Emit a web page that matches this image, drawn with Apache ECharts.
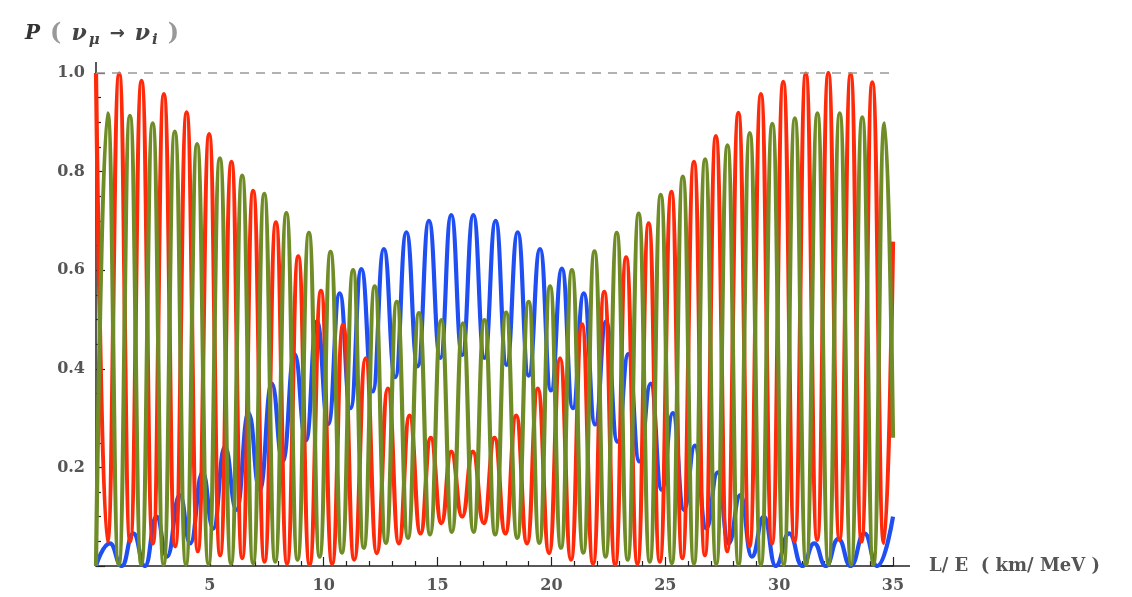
<!DOCTYPE html>
<html><head><meta charset="utf-8">
<script src="https://cdn.jsdelivr.net/npm/echarts@6/dist/echarts.min.js"></script>
<style>html,body{margin:0;padding:0;background:#fff}#c{width:1132px;height:597px}</style>
</head><body><div id="c"></div>
<script>
// P(nu_mu -> nu_mu) : red — extrema
const xMu = [0,0.5,1.02,1.5,2.0,2.5,2.98,3.48,3.98,4.47,4.97,5.45,5.95,6.42,6.9,7.4,7.9,8.39,8.88,9.38,9.88,10.37,10.85,11.34,11.84,12.33,12.82,13.3,13.77,14.25,14.7,15.17,15.6,16.08,16.55,17.03,17.5,17.98,18.45,18.93,19.4,19.9,20.38,20.86,21.34,21.83,22.32,22.8,23.28,23.78,24.27,24.76,25.27,25.75,26.26,26.74,27.22,27.72,28.21,28.7,29.2,29.69,30.18,30.68,31.17,31.67,32.16,32.65,33.14,33.62,34.09,34.6,35];
const pMu = [1.0,0.05,0.999,0.05,0.984,0.046,0.957,0.04,0.92,0.03,0.876,0.022,0.82,0.016,0.761,0.009,0.697,0.005,0.628,0.003,0.558,0.005,0.489,0.013,0.421,0.026,0.36,0.046,0.305,0.066,0.26,0.087,0.232,0.1,0.232,0.087,0.26,0.066,0.305,0.046,0.36,0.026,0.421,0.013,0.49,0.005,0.556,0.003,0.626,0.005,0.695,0.009,0.759,0.016,0.82,0.022,0.872,0.03,0.919,0.04,0.957,0.046,0.982,0.05,0.999,0.053,1.0,0.053,0.998,0.05,0.981,0.047,0.658];
// P(nu_mu -> nu_tau) : olive green
const xTau = [0,0.51,1.0,1.49,1.99,2.49,2.97,3.46,3.95,4.44,4.94,5.44,5.93,6.42,6.9,7.39,7.87,8.36,8.85,9.35,9.82,10.3,10.8,11.29,11.76,12.24,12.73,13.21,13.7,14.18,14.67,15.16,15.63,16.11,16.58,17.06,17.53,18.01,18.5,19.0,19.47,19.94,20.42,20.9,21.4,21.89,22.38,22.87,23.35,23.83,24.32,24.8,25.29,25.77,26.26,26.75,27.24,27.73,28.22,28.71,29.2,29.7,30.2,30.69,31.19,31.68,32.17,32.66,33.16,33.65,34.14,34.63,35];
const pTau = [0,0.918,0.003,0.913,0.003,0.898,0.003,0.881,0.003,0.856,0.004,0.827,0.005,0.792,0.006,0.755,0.009,0.716,0.013,0.676,0.019,0.637,0.027,0.6,0.037,0.567,0.047,0.536,0.057,0.513,0.064,0.499,0.069,0.492,0.069,0.499,0.064,0.514,0.057,0.536,0.047,0.567,0.037,0.6,0.027,0.638,0.019,0.676,0.013,0.715,0.009,0.753,0.006,0.79,0.005,0.825,0.004,0.853,0.003,0.878,0.003,0.897,0.003,0.908,0.003,0.918,0.003,0.918,0.003,0.91,0.003,0.898,0.26];
// P(nu_mu -> nu_e) : blue
const xE = [0,0.61,1.13,1.64,2.15,2.66,3.12,3.68,4.14,4.68,5.15,5.66,6.17,6.7,7.19,7.72,8.2,8.72,9.22,9.7,10.2,10.7,11.18,11.65,12.15,12.64,13.14,13.63,14.13,14.62,15.12,15.6,16.08,16.57,17.06,17.55,18.03,18.52,19.0,19.5,19.98,20.46,20.94,21.42,21.92,22.4,22.9,23.38,23.86,24.36,24.84,25.33,25.82,26.3,26.8,27.3,27.78,28.3,28.8,29.33,29.85,30.44,31.02,31.54,32.05,32.6,33.14,33.75,34.3,35];
const pE = [0,0.046,0,0.066,0,0.1,0.019,0.144,0.046,0.19,0.076,0.242,0.114,0.31,0.155,0.37,0.213,0.43,0.255,0.496,0.288,0.553,0.32,0.602,0.354,0.643,0.383,0.677,0.405,0.7,0.422,0.712,0.428,0.712,0.422,0.7,0.408,0.677,0.386,0.643,0.356,0.603,0.32,0.553,0.287,0.496,0.252,0.43,0.212,0.37,0.155,0.31,0.114,0.244,0.076,0.19,0.046,0.144,0.019,0.1,0,0.066,0,0.046,0,0.055,0,0.066,0,0.1];
const xTickLabels = [5,10,15,20,25,30,35];
const yTickLabels = [0.2,0.4,0.6,0.8,1.0];

const zip = (xs, ys) => xs.map((x, i) => [x, ys[i]]);
const labelFont = {fontFamily:'DejaVu Serif', fontWeight:'bold', fontSize:16, color:'#555'};
const lineSeries = (name, xs, ys, color, z) => ({
  name, type:'line', data: zip(xs, ys), smooth:0.5, smoothMonotone:'x',
  showSymbol:false, symbol:'none', z,
  lineStyle:{width:4.2, color}, itemStyle:{color}, silent:true
});

const chart = echarts.init(document.getElementById('c'), null, {renderer:'canvas'});
const blue = lineSeries('νμ→νe', xE, pE, '#1f4ff2', 2);
blue.markLine = {silent:true, symbol:['none','none'], label:{show:false},
  lineStyle:{type:[9,7], color:'#999', width:1.5}, data:[{yAxis:1}]};
chart.setOption({
  animation:false,
  backgroundColor:'#fff',
  title:{
    left:20, top:15,
    text:'{p|P}  {b|(}  {n|ν}{s|μ}  {a|→}  {n|ν}{s|i}  {b|)}',
    textStyle:{rich:{
      p:{fontFamily:'DejaVu Serif', fontStyle:'italic', fontWeight:'bold', fontSize:20, color:'#333'},
      b:{fontFamily:'DejaVu Serif', fontSize:24, color:'#999'},
      n:{fontFamily:'DejaVu Serif', fontStyle:'italic', fontSize:22, color:'#444'},
      s:{fontFamily:'DejaVu Serif', fontStyle:'italic', fontWeight:'bold', fontSize:15, color:'#444', padding:[13,0,0,2]},
      a:{fontFamily:'DejaVu Sans', fontSize:18, color:'#444'}
    }}
  },
  grid:{left:96, right:239, top:73, bottom:31, containLabel:false},
  xAxis:{
    type:'value', min:0, max:35, interval:5,
    name:'L/ E  ( km/ MeV )', nameLocation:'end', nameGap:36,
    nameTextStyle:{fontFamily:'DejaVu Serif', fontWeight:'bold', fontSize:18, color:'#555', verticalAlign:'middle'},
    axisLine:{show:true, onZero:false, symbol:['none','rect'], symbolSize:[1.5,34], lineStyle:{color:'#222', width:1.5}},
    axisTick:{show:true, inside:true, length:9, lineStyle:{color:'#222', width:1.2}},
    minorTick:{show:true, splitNumber:5, length:5, lineStyle:{color:'#222', width:1.2}},
    splitLine:{show:false}, minorSplitLine:{show:false},
    axisLabel:Object.assign({margin:12, formatter:v => xTickLabels.includes(v) ? String(v) : ''}, labelFont)
  },
  yAxis:{
    type:'value', min:0, max:1, interval:0.2,
    axisLine:{show:true, onZero:false, symbol:['none','rect'], symbolSize:[1.5,22], lineStyle:{color:'#222', width:1.5}},
    axisTick:{show:true, inside:true, length:9, lineStyle:{color:'#222', width:1.2}},
    minorTick:{show:true, splitNumber:4, length:5, lineStyle:{color:'#222', width:1.2}},
    splitLine:{show:false}, minorSplitLine:{show:false},
    axisLabel:Object.assign({margin:11, formatter:v => {
      const hit = yTickLabels.find(t => Math.abs(t - v) < 1e-9);
      return hit === undefined ? '' : hit.toFixed(1);
    }}, labelFont)
  },
  series:[
    blue,
    lineSeries('νμ→νμ', xMu, pMu, '#ff2a0a', 3),
    lineSeries('νμ→ντ', xTau, pTau, '#6f8c27', 4)
  ]
});
</script></body></html>
